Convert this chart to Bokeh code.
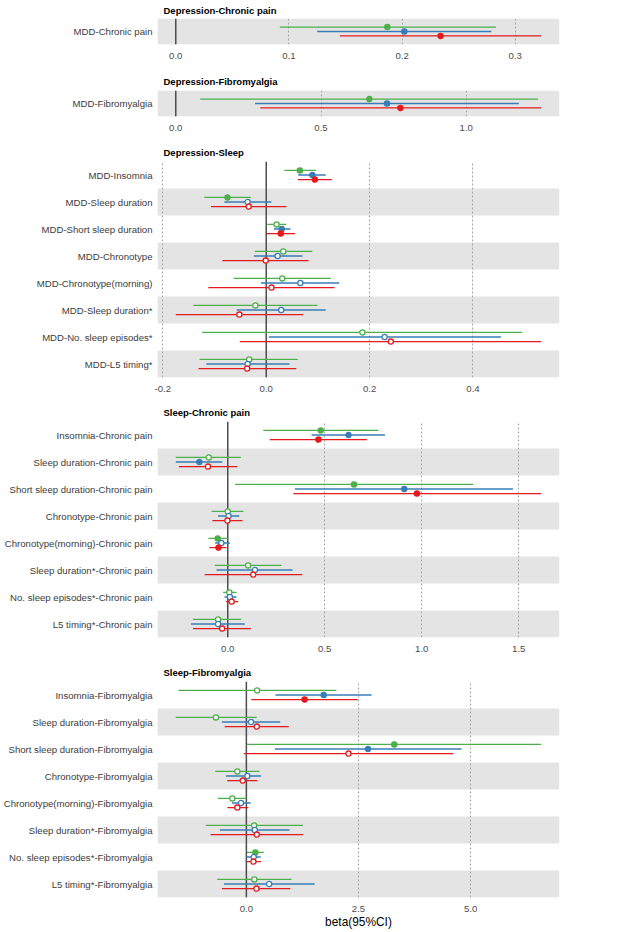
from bokeh.plotting import figure
from bokeh.models import (ColumnDataSource, FactorRange, Range1d, FixedTicker,
                          NumeralTickFormatter, Span, Legend, LegendItem)
from bokeh.layouts import column
from bokeh.transform import dodge
from bokeh.embed import file_html
from bokeh.resources import INLINE

FONT = "Liberation Sans"

methods = ["WM", "MR_PRE", "IVW"]
colors = ["#4DAF4A", "#377EB8", "#E41A1C"]

# (beta, lower, upper, significant)
dcp_rows = ["MDD-Chronic pain"]
dcp_wm = [(0.187, 0.092, 0.283, 1)]
dcp_mr = [(0.202, 0.125, 0.279, 1)]
dcp_ivw = [(0.234, 0.145, 0.323, 1)]
dcp_ticks = [0.0, 0.1, 0.2, 0.3]

dfm_rows = ["MDD-Fibromyalgia"]
dfm_wm = [(0.666, 0.084, 1.247, 1)]
dfm_mr = [(0.727, 0.273, 1.181, 1)]
dfm_ivw = [(0.773, 0.291, 1.258, 1)]
dfm_ticks = [0.0, 0.5, 1.0]

ds_rows = ["MDD-Insomnia", "MDD-Sleep duration", "MDD-Short sleep duration",
           "MDD-Chronotype", "MDD-Chronotype(morning)", "MDD-Sleep duration*",
           "MDD-No. sleep episodes*", "MDD-L5 timing*"]
ds_wm = [(0.065, 0.035, 0.096, 1), (-0.075, -0.120, -0.030, 1), (0.020, 0.002, 0.039, 0),
         (0.033, -0.022, 0.089, 0), (0.031, -0.063, 0.125, 0), (-0.021, -0.141, 0.099, 0),
         (0.186, -0.124, 0.495, 0), (-0.033, -0.129, 0.061, 0)]
ds_mr = [(0.089, 0.062, 0.115, 1), (-0.036, -0.081, 0.010, 0), (0.030, 0.015, 0.047, 1),
         (0.022, -0.024, 0.070, 0), (0.066, -0.010, 0.141, 0), (0.029, -0.057, 0.115, 0),
         (0.229, 0.005, 0.454, 0), (-0.036, -0.116, 0.045, 0)]
ds_ivw = [(0.094, 0.061, 0.127, 1), (-0.034, -0.107, 0.039, 0), (0.028, 0.001, 0.056, 1),
          (-0.001, -0.085, 0.082, 0), (0.010, -0.112, 0.132, 0), (-0.052, -0.175, 0.072, 0),
          (0.241, -0.051, 0.532, 0), (-0.037, -0.131, 0.058, 0)]
ds_ticks = [-0.2, 0.0, 0.2, 0.4]

sc_rows = ["Insomnia-Chronic pain", "Sleep duration-Chronic pain",
           "Short sleep duration-Chronic pain", "Chronotype-Chronic pain",
           "Chronotype(morning)-Chronic pain", "Sleep duration*-Chronic pain",
           "No. sleep episodes*-Chronic pain", "L5 timing*-Chronic pain"]
sc_wm = [(0.479, 0.183, 0.777, 1), (-0.098, -0.268, 0.067, 0), (0.651, 0.038, 1.265, 1),
         (0.000, -0.083, 0.081, 0), (-0.052, -0.100, 0.004, 1), (0.105, -0.067, 0.277, 0),
         (0.008, -0.024, 0.045, 0), (-0.050, -0.179, 0.069, 0)]
sc_mr = [(0.622, 0.432, 0.811, 1), (-0.147, -0.268, -0.028, 1), (0.910, 0.346, 1.470, 1),
         (0.004, -0.050, 0.059, 0), (-0.033, -0.065, 0.011, 0), (0.140, -0.058, 0.334, 0),
         (0.011, -0.017, 0.045, 0), (-0.050, -0.190, 0.088, 0)]
sc_ivw = [(0.467, 0.217, 0.717, 1), (-0.102, -0.252, 0.050, 0), (0.975, 0.338, 1.616, 1),
          (-0.002, -0.079, 0.076, 0), (-0.048, -0.094, -0.007, 1), (0.131, -0.119, 0.384, 0),
          (0.020, -0.009, 0.054, 0), (-0.029, -0.179, 0.119, 0)]
sc_ticks = [0.0, 0.5, 1.0, 1.5]

sf_rows = ["Insomnia-Fibromyalgia", "Sleep duration-Fibromyalgia",
           "Short sleep duration-Fibromyalgia", "Chronotype-Fibromyalgia",
           "Chronotype(morning)-Fibromyalgia", "Sleep duration*-Fibromyalgia",
           "No. sleep episodes*-Fibromyalgia", "L5 timing*-Fibromyalgia"]
sf_wm = [(0.239, -1.515, 2.008, 0), (-0.679, -1.574, 0.231, 0), (3.298, 0.015, 6.575, 1),
         (-0.201, -0.694, 0.291, 0), (-0.313, -0.634, 0.000, 0), (0.172, -0.903, 1.261, 0),
         (0.201, 0.015, 0.388, 1), (0.179, -0.649, 1.007, 0)]
sf_mr = [(1.724, 0.649, 2.791, 1), (0.104, -0.545, 0.754, 0), (2.709, 0.634, 4.798, 1),
         (0.022, -0.455, 0.328, 0), (-0.119, -0.321, 0.097, 0), (0.187, -0.590, 0.963, 0),
         (0.164, 0.000, 0.321, 0), (0.507, -0.500, 1.522, 0)]
sf_ivw = [(1.298, 0.112, 2.485, 1), (0.231, -0.485, 0.948, 0), (2.276, -0.060, 4.619, 0),
          (-0.082, -0.425, 0.246, 0), (-0.201, -0.425, 0.045, 0), (0.231, -0.798, 1.269, 0),
          (0.157, 0.015, 0.328, 0), (0.224, -0.545, 0.978, 0)]
sf_ticks = [0.0, 2.5, 5.0]

OFFSETS = [0.17, 0.0, -0.17]
FRAME_W = 402
LEFT = 157
ROW_H = 27


def make_panel(title, rows, series, ticks, frame_h, top, bottom,
               legend=False, xlabel=None, title_standoff=8):
    lo_all = min(0.0, min(s[1] for ser in series for s in ser))
    hi_all = max(0.0, max(s[2] for ser in series for s in ser))
    pad = 0.05 * (hi_all - lo_all)
    x0, x1 = lo_all - pad, hi_all + pad
    p = figure(frame_width=FRAME_W, frame_height=frame_h,
               x_range=Range1d(x0, x1), y_range=FactorRange(factors=rows[::-1]),
               output_backend="svg", toolbar_location=None,
               min_border_left=LEFT, min_border_right=80 if legend else 4,
               min_border_top=top, min_border_bottom=bottom,
               background_fill_color="white", border_fill_color="white")
    p.outline_line_color = None
    p.title.text = title
    p.title.text_font = FONT
    p.title.text_font_size = "9.5px"
    p.title.text_font_style = "bold"
    p.title.text_color = "#000000"
    p.title.align = "left"
    p.title.offset = 6
    p.title.standoff = title_standoff

    # alternating bands
    band_rows = rows[::-1][0::2]
    p.hbar(y=band_rows, height=1, left=x0, right=x1, fill_color="#E4E4E4",
           line_color=None, level="image")

    p.ygrid.grid_line_color = None
    p.xgrid.ticker = FixedTicker(ticks=ticks)
    p.xgrid.grid_line_color = "#A6A6A6"
    p.xgrid.grid_line_dash = "2 2"
    p.xgrid.grid_line_width = 1

    p.add_layout(Span(location=0, dimension="height", line_color="#4D4D4D",
                      line_width=1.5, level="underlay"))

    point_renderers = []
    for ser, c, off in zip(series, colors, OFFSETS):
        src = ColumnDataSource(dict(
            row=rows,
            beta=[s[0] for s in ser],
            lo=[s[1] for s in ser],
            hi=[s[2] for s in ser],
            fill=[c if s[3] else "white" for s in ser],
        ))
        yv = dodge("row", off, range=p.y_range)
        p.segment(x0="lo", y0=yv, x1="hi", y1=yv, line_color=c, line_width=1.3,
                  source=src)
        r = p.scatter(x="beta", y=yv, size=5.2, fill_color="fill", line_color=c,
                      line_width=1.3, source=src)
        filled = [i for i, s in enumerate(ser) if s[3]]
        point_renderers.append((r, filled[0] if filled else 0))

    xa = p.xaxis[0]
    xa.ticker = FixedTicker(ticks=ticks)
    xa.formatter = NumeralTickFormatter(format="0.0")
    xa.major_label_text_font = FONT
    xa.major_label_text_font_size = "9.6px"
    xa.major_label_text_color = "#4D4D4D"
    xa.major_label_standoff = 8
    xa.major_tick_out = 0
    xa.major_tick_in = 0
    xa.minor_tick_out = 0
    xa.minor_tick_in = 0
    xa.axis_line_color = None
    if xlabel:
        xa.axis_label = xlabel
        xa.axis_label_text_font = FONT
        xa.axis_label_text_font_size = "11.9px"
        xa.axis_label_text_font_style = "normal"
        xa.axis_label_text_color = "#000000"
        xa.axis_label_standoff = 0

    ya = p.yaxis[0]
    ya.major_label_text_font = FONT
    ya.major_label_text_font_size = "9.6px"
    ya.major_label_text_color = "#3C3C3C"
    ya.major_label_standoff = 5
    ya.major_tick_out = 0
    ya.major_tick_in = 0
    ya.axis_line_color = None

    if legend:
        items = [LegendItem(label=m, renderers=[r], index=idx)
                 for m, (r, idx) in zip(methods, point_renderers)]
        lg = Legend(items=items, title="method",
                    location=(FRAME_W + 16, frame_h - 62))
        lg.title_text_font = FONT
        lg.title_text_font_size = "11.7px"
        lg.title_text_font_style = "normal"
        lg.title_text_color = "#000000"
        lg.title_standoff = 4
        lg.label_text_font = FONT
        lg.label_text_font_size = "9.4px"
        lg.label_text_color = "#222222"
        lg.glyph_width = 12
        lg.glyph_height = 9
        lg.label_height = 15
        lg.label_standoff = 6
        lg.spacing = 0
        lg.padding = 3
        lg.margin = 0
        lg.border_line_color = None
        lg.background_fill_color = None
        p.add_layout(lg, "center")
    return p


p1 = make_panel("Depression-Chronic pain", dcp_rows, [dcp_wm, dcp_mr, dcp_ivw],
                dcp_ticks, 26, 18, 24, title_standoff=5)
p2 = make_panel("Depression-Fibromyalgia", dfm_rows, [dfm_wm, dfm_mr, dfm_ivw],
                dfm_ticks, 26, 22, 23)
p3 = make_panel("Depression-Sleep", ds_rows, [ds_wm, ds_mr, ds_ivw],
                ds_ticks, ROW_H * len(ds_rows), 22, 22)
p4 = make_panel("Sleep-Chronic pain", sc_rows, [sc_wm, sc_mr, sc_ivw],
                sc_ticks, ROW_H * len(sc_rows), 22, 22, legend=True)
p5 = make_panel("Sleep-Fibromyalgia", sf_rows, [sf_wm, sf_mr, sf_ivw],
                sf_ticks, ROW_H * len(sf_rows), 22, 29, xlabel="beta(95%CI)")

layout = column(p1, p2, p3, p4, p5, spacing=0)
open("out.html", "w").write(file_html(layout, INLINE))
